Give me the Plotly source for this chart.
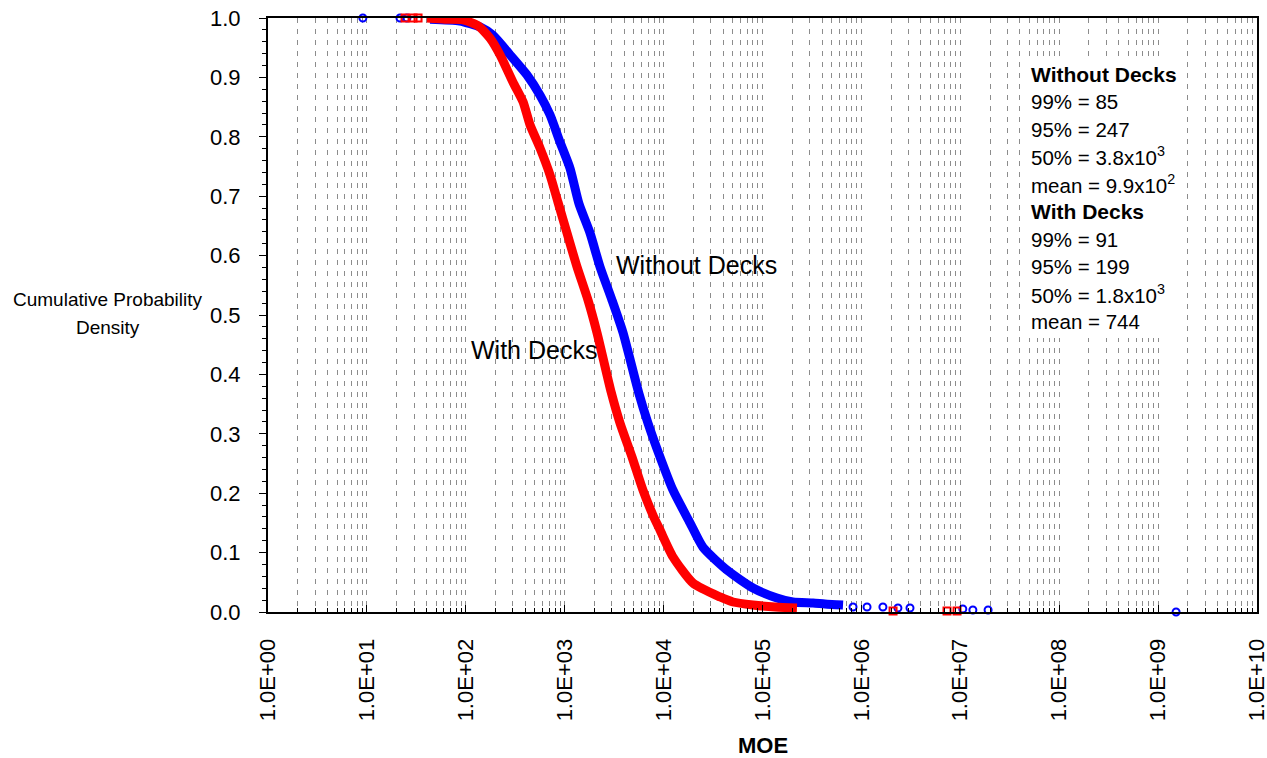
import plotly.graph_objects as go

# ---------------- data ----------------
# Without Decks (blue, open circles)
blue_top_moe = [9.1, 21.6, 25.4]
blue_top_prob = [1.0, 1.0, 1.0]
blue_curve_moe = [43.5, 87, 139, 188, 280, 416, 563, 710, 897, 1132, 1396, 1803, 2276,
                  3008, 3890, 5600, 6950, 9200, 12450, 18500, 25000, 43700, 80200,
                  140000, 203000, 324000, 428000, 652000]
blue_curve_prob = [0.998, 0.995, 0.985, 0.971, 0.938, 0.904, 0.870, 0.837, 0.791, 0.747,
                   0.687, 0.638, 0.581, 0.525, 0.470, 0.369, 0.318, 0.261, 0.205, 0.150,
                   0.109, 0.0707, 0.0404, 0.0236, 0.0168, 0.0152, 0.0135, 0.0118]
blue_tail_moe = [823000, 1.14e6, 1.65e6, 2.34e6, 3.10e6, 1.06e7, 1.34e7, 1.91e7, 1.52e9]
blue_tail_prob = [0.0084, 0.0084, 0.0084, 0.0067, 0.0067, 0.0050, 0.0034, 0.0034, 0.0]

# With Decks (red, open squares)
red_top_moe = [24.3, 29.3, 32.9]
red_top_prob = [1.0, 1.0, 1.0]
red_curve_moe = [40.5, 61.6, 93.7, 133, 176, 222, 300, 379, 446, 563, 710, 855, 1055,
                 1332, 1721, 2122, 2950, 3625, 4790, 6190, 7810, 9200, 12450, 19800,
                 37200, 50300, 80200, 134000, 223000]
red_curve_prob = [1.0, 0.998, 0.997, 0.987, 0.966, 0.938, 0.892, 0.859, 0.820, 0.781,
                  0.736, 0.690, 0.638, 0.581, 0.525, 0.470, 0.370, 0.318, 0.261, 0.205,
                  0.163, 0.138, 0.0926, 0.0488, 0.0253, 0.0168, 0.0118, 0.0084, 0.0067]
red_tail_moe = [2.09e6, 7.34e6, 9.27e6]
red_tail_prob = [0.0017, 0.0017, 0.0017]

x_tick_vals = [10 ** k for k in range(0, 11)]
x_tick_text = ["1.0E+%02d" % k for k in range(0, 11)]
y_tick_vals = [round(0.1 * i, 1) for i in range(0, 11)]

stats_lines = [
    "<b>Without Decks</b>",
    "99% = 85",
    "95% = 247",
    "50% = 3.8x10<sup>3</sup>",
    "mean = 9.9x10<sup>2</sup>",
    "<b>With Decks</b>",
    "99% = 91",
    "95% = 199",
    "50% = 1.8x10<sup>3</sup>",
    "mean = 744",
]

# ---------------- figure ----------------
BLUE = "#0000FF"
RED = "#FF0000"
FONT = "Liberation Sans, Arial, sans-serif"

fig = go.Figure()

# blue
fig.add_trace(go.Scatter(x=blue_curve_moe, y=blue_curve_prob, mode="lines",
                         line=dict(color=BLUE, width=9, shape="spline", smoothing=0.6),
                         showlegend=False))
fig.add_trace(go.Scatter(x=blue_top_moe + blue_tail_moe, y=blue_top_prob + blue_tail_prob,
                         mode="markers", cliponaxis=False,
                         marker=dict(symbol="circle-open", size=7, color=BLUE,
                                     line=dict(width=2, color=BLUE)), showlegend=False))
# red
fig.add_trace(go.Scatter(x=red_curve_moe, y=red_curve_prob, mode="lines",
                         line=dict(color=RED, width=9, shape="spline", smoothing=0.6),
                         showlegend=False))
fig.add_trace(go.Scatter(x=red_top_moe + red_tail_moe, y=red_top_prob + red_tail_prob,
                         mode="markers", cliponaxis=False,
                         marker=dict(symbol="square-open", size=7, color=RED,
                                     line=dict(width=2, color=RED)), showlegend=False))

minor_x = [m * 10 ** k for k in range(0, 10) for m in range(2, 10)]
minor_y = [round(0.02 * i, 2) for i in range(0, 51) if i % 5 != 0]

fig.update_layout(
    width=1267, height=758,
    margin=dict(l=268, r=10, t=18, b=146, autoexpand=False),
    paper_bgcolor="white", plot_bgcolor="white",
    font=dict(family=FONT, color="black"),
    xaxis=dict(
        type="log", range=[0, 10], automargin=False,
        tickmode="array", tickvals=x_tick_vals, ticktext=x_tick_text,
        tickangle=-90, tickfont=dict(size=22, family=FONT),
        ticklabeloverflow="allow",
        ticks="inside", ticklen=7, tickcolor="black", tickwidth=1,
        ticklabelstandoff=16,
        showline=True, linecolor="black", linewidth=2, mirror=True,
        showgrid=True, gridcolor="#8c8c8c", griddash="5px,6px", gridwidth=1,
        zeroline=False,
        minor=dict(tickmode="array", tickvals=minor_x, ticks="inside", ticklen=4,
                   tickcolor="black", showgrid=True, gridcolor="#8c8c8c",
                   griddash="5px,6px", gridwidth=1),
    ),
    yaxis=dict(
        range=[0, 1], automargin=False,
        tickmode="array", tickvals=y_tick_vals, tickformat=".1f",
        tickfont=dict(size=22, family=FONT),
        ticks="outside", ticklen=7, tickcolor="black", tickwidth=1,
        ticklabelstandoff=14,
        showline=True, linecolor="black", linewidth=2, mirror=True,
        showgrid=False, zeroline=False,
        minor=dict(tickmode="array", tickvals=minor_y, ticks="outside", ticklen=4,
                   tickcolor="black", showgrid=False),
    ),
)

def py_to_paper(py):
    return (612 - py) / 594.0

def px_to_paper(px):
    return (px - 268) / 989.0

# white box behind the statistics text (hides the grid there)
fig.add_shape(type="rect", xref="paper", yref="paper",
              x0=px_to_paper(1022), x1=px_to_paper(1185),
              y0=py_to_paper(338), y1=py_to_paper(58),
              fillcolor="white", line=dict(width=0), layer="above")

annotations = []
# axis titles
annotations.append(dict(text="Cumulative Probability", x=px_to_paper(108), y=py_to_paper(300),
                        xref="paper", yref="paper", xanchor="center", yanchor="middle",
                        showarrow=False, font=dict(size=19, family=FONT)))
annotations.append(dict(text="Density", x=px_to_paper(108), y=py_to_paper(327),
                        xref="paper", yref="paper", xanchor="center", yanchor="middle",
                        showarrow=False, font=dict(size=19, family=FONT)))
annotations.append(dict(text="<b>MOE</b>", x=px_to_paper(763), y=py_to_paper(745),
                        xref="paper", yref="paper", xanchor="center", yanchor="middle",
                        showarrow=False, font=dict(size=22, family=FONT)))
# curve labels
annotations.append(dict(text="Without Decks", x=px_to_paper(614), y=py_to_paper(265),
                        xref="paper", yref="paper", xanchor="left", yanchor="middle",
                        showarrow=False, font=dict(size=25, family=FONT)))
annotations.append(dict(text="With Decks", x=px_to_paper(469), y=py_to_paper(350),
                        xref="paper", yref="paper", xanchor="left", yanchor="middle",
                        showarrow=False, font=dict(size=25, family=FONT)))
# stats block
for i, line in enumerate(stats_lines):
    size = 21 if line.startswith("<b>") else 20.5
    annotations.append(dict(text=line, x=px_to_paper(1029), y=py_to_paper(74 + 27.5 * i),
                            xref="paper", yref="paper", xanchor="left", yanchor="middle",
                            showarrow=False, font=dict(size=size, family=FONT)))
fig.update_layout(annotations=annotations)

fig.write_html("out.html")
